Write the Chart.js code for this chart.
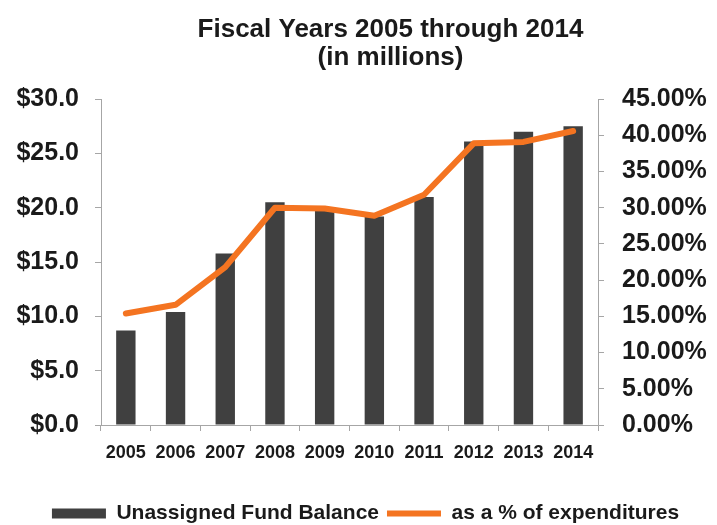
<!DOCTYPE html>
<html>
<head>
<meta charset="utf-8">
<script src="https://cdn.jsdelivr.net/npm/chart.js@4/dist/chart.umd.min.js"></script>
<style>
  html, body { margin: 0; padding: 0; background: #fff; }
  #box { width: 717px; height: 525px; }
</style>
</head>
<body>
<div id="box"><canvas id="chart"></canvas></div>
<script>
    'use strict'

    // values
    var years = ['2005', '2006', '2007', '2008', '2009', '2010', '2011', '2012', '2013', '2014'];
    var fundBalance = [8.7, 10.4, 15.8, 20.5, 19.7, 19.2, 21.0, 26.1, 27.0, 27.5];
    var pctOfExpenditures = [15.4, 16.6, 21.8, 30.0, 29.9, 28.9, 31.8, 38.9, 39.1, 40.6];

    var leftTicks = ['$0.0', '$5.0', '$10.0', '$15.0', '$20.0', '$25.0', '$30.0'];
    var rightTicks = ['0.00%', '5.00%', '10.00%', '15.00%', '20.00%', '25.00%', '30.00%', '35.00%', '40.00%', '45.00%'];

    var titleLines = ['Fiscal Years 2005 through 2014', '(in millions)'];
    var seriesNames = ['Unassigned Fund Balance', 'as a % of expenditures'];

    var fontFamily = "'Liberation Sans', Arial, sans-serif";
    var textColor = '#1a1a1a';
    var axisColor = '#a6a6a6';

    // nudge title and legend after the layout, the reference is not centred
    var shiftBoxes = {
        id: 'shiftBoxes',
        afterLayout: function (chart) {
            if (chart.titleBlock) {
                chart.titleBlock.left += 25;
                chart.titleBlock.right += 25;
            }
            if (chart.legend) {
                chart.legend.top += 9;
                chart.legend.bottom += 9;
            }
        }
    };

    function axisBase(color) {
        return {
            border: { display: true, color: color, width: 1 },
            grid: { display: true, drawOnChartArea: false, drawTicks: true, tickLength: 6, color: color }
        };
    }

    var yLeft = axisBase(axisColor);
    yLeft.position = 'left';
    yLeft.min = 0;
    yLeft.max = 30;
    yLeft.ticks = {
        stepSize: 5,
        padding: 16,
        color: textColor,
        font: { family: fontFamily, size: 25, weight: 'bold' },
        callback: function (value, index) { return leftTicks[index]; }
    };
    yLeft.afterFit = function (scale) { scale.width = 87; };

    var yRight = axisBase(axisColor);
    yRight.position = 'right';
    yRight.min = 0;
    yRight.max = 45;
    yRight.ticks = {
        stepSize: 5,
        padding: 18,
        color: textColor,
        font: { family: fontFamily, size: 25, weight: 'bold' },
        callback: function (value, index) { return rightTicks[index]; }
    };
    yRight.afterFit = function (scale) { scale.width = 119; };

    var xAxis = axisBase(axisColor);
    xAxis.grid.tickLength = 6;
    xAxis.grid.offset = true;
    xAxis.ticks = {
        padding: 11,
        color: textColor,
        maxRotation: 0,
        autoSkip: false,
        font: { family: fontFamily, size: 18, weight: 'bold' }
    };
    xAxis.afterFit = function (scale) { scale.height = 61; };

    new Chart(document.getElementById('chart'), {
        type: 'bar',
        data: {
            labels: years,
            datasets: [
                {
                    type: 'bar',
                    label: seriesNames[0],
                    data: fundBalance,
                    yAxisID: 'y',
                    backgroundColor: '#404040',
                    borderWidth: 0,
                    barPercentage: 0.39,
                    categoryPercentage: 1,
                    pointStyle: 'rect',
                    order: 2
                },
                {
                    type: 'line',
                    label: seriesNames[1],
                    data: pctOfExpenditures,
                    yAxisID: 'y1',
                    borderColor: '#f47421',
                    backgroundColor: '#f47421',
                    borderWidth: 6,
                    borderJoinStyle: 'round',
                    borderCapStyle: 'round',
                    tension: 0,
                    pointRadius: 0,
                    pointHoverRadius: 0,
                    pointStyle: 'line',
                    order: 1
                }
            ]
        },
        options: {
            responsive: true,
            maintainAspectRatio: false,
            animation: false,
            layout: { padding: { left: 14, right: 0, top: 0, bottom: 0 } },
            scales: { x: xAxis, y: yLeft, y1: yRight },
            plugins: {
                title: {
                    display: true,
                    text: titleLines,
                    color: textColor,
                    font: { family: fontFamily, size: 26, weight: 'bold', lineHeight: 1.08 },
                    padding: { top: 16, bottom: 27 }
                },
                legend: {
                    display: true,
                    position: 'bottom',
                    labels: {
                        usePointStyle: true,
                        pointStyleWidth: 54,
                        boxHeight: 10,
                        padding: 8,
                        color: textColor,
                        font: { family: fontFamily, size: 21, weight: 'bold' },
                        sort: function (a, b) { return a.datasetIndex - b.datasetIndex; }
                    }
                },
                tooltip: { enabled: false }
            }
        },
        plugins: [shiftBoxes]
    });
</script>
</body>
</html>
